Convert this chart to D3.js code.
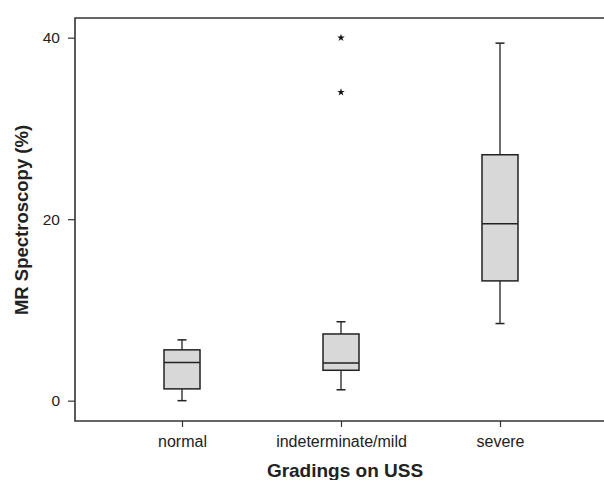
<!DOCTYPE html>
<html>
<head>
<meta charset="utf-8">
<script src="https://cdn.jsdelivr.net/npm/d3@7"></script>
<style>
  body { margin: 0; background: #fff; }
  text { font-family: "Liberation Sans", Arial, sans-serif; fill: #222; }
</style>
</head>
<body>
<div id="chart"></div>
<script>
// data
const categories = ["normal", "indeterminate/mild", "severe"];
const whiskerLow = [0, 1.2, 8.5];
const q1 = [1.3, 3.35, 13.2];
const median = [4.2, 4.15, 19.5];
const q3 = [5.6, 7.35, 27.1];
const whiskerHigh = [6.7, 8.7, 39.4];
const outlierCats = ["indeterminate/mild", "indeterminate/mild"];
const outlierVals = [40, 34];
const yTicks = [0, 20, 40];

const W = 604, H = 480;
const margin = { top: 18, right: -3, bottom: 59, left: 75 };
const width = W - margin.left - margin.right;
const height = H - margin.top - margin.bottom;

const svg = d3.select("#chart").append("svg")
    .attr("width", W)
    .attr("height", H);

const g = svg.append("g")
    .attr("transform", `translate(${margin.left},${margin.top})`);

const x = d3.scalePoint()
    .domain(categories)
    .range([0, width])
    .padding(0.673);

const y = d3.scaleLinear()
    .domain([-2.24, 42.17])
    .range([height, 0]);

const boxes = categories.map((c, i) => ({
    cat: c, lo: whiskerLow[i], q1: q1[i], med: median[i], q3: q3[i], hi: whiskerHigh[i]
}));

const boxW = 36, capW = 9;
const ink = "#222";

// whiskers
const bg = g.selectAll(".box").data(boxes).join("g")
    .attr("class", "box")
    .attr("transform", d => `translate(${x(d.cat)},0)`);

bg.append("line")
    .attr("y1", d => y(d.lo)).attr("y2", d => y(d.q1))
    .attr("stroke", ink).attr("stroke-width", 1.3);
bg.append("line")
    .attr("y1", d => y(d.q3)).attr("y2", d => y(d.hi))
    .attr("stroke", ink).attr("stroke-width", 1.3);
bg.append("line")
    .attr("x1", -capW / 2).attr("x2", capW / 2)
    .attr("y1", d => y(d.lo)).attr("y2", d => y(d.lo))
    .attr("stroke", ink).attr("stroke-width", 1.5);
bg.append("line")
    .attr("x1", -capW / 2).attr("x2", capW / 2)
    .attr("y1", d => y(d.hi)).attr("y2", d => y(d.hi))
    .attr("stroke", ink).attr("stroke-width", 1.5);

// boxes
bg.append("rect")
    .attr("x", -boxW / 2)
    .attr("width", boxW)
    .attr("y", d => y(d.q3))
    .attr("height", d => y(d.q1) - y(d.q3))
    .attr("fill", "#d8d8d8")
    .attr("stroke", ink)
    .attr("stroke-width", 1.5);

bg.append("line")
    .attr("x1", -boxW / 2).attr("x2", boxW / 2)
    .attr("y1", d => y(d.med)).attr("y2", d => y(d.med))
    .attr("stroke", ink).attr("stroke-width", 1.5);

// outliers (stars)
g.selectAll(".outlier").data(outlierVals).join("path")
    .attr("class", "outlier")
    .attr("d", d3.symbol().type(d3.symbolStar).size(18))
    .attr("transform", (d, i) => `translate(${x(outlierCats[i])},${y(d)})`)
    .attr("fill", "#111");

// axes
const yAxis = g.append("g")
    .call(d3.axisLeft(y).tickValues(yTicks).tickSize(7).tickPadding(8));
yAxis.select(".domain").remove();
yAxis.selectAll("line").attr("stroke", "#333").attr("stroke-width", 1.2);
yAxis.selectAll("text")
    .attr("fill", "#333")
    .style("font-size", "15.5px")
    .style("font-family", "Liberation Sans, Arial, sans-serif");

const xAxis = g.append("g")
    .attr("transform", `translate(0,${height})`)
    .call(d3.axisBottom(x).tickSize(6).tickPadding(9));
xAxis.select(".domain").remove();
xAxis.selectAll("line").attr("stroke", "#333").attr("stroke-width", 1.2);
xAxis.selectAll("text")
    .attr("fill", "#333")
    .style("font-size", "16px")
    .style("font-family", "Liberation Sans, Arial, sans-serif");

// frame (top, left, bottom)
g.append("path")
    .attr("d", `M${width},0H0V${height}H${width}`)
    .attr("fill", "none")
    .attr("stroke", "#333")
    .attr("stroke-width", 1.6);

// axis titles
svg.append("text")
    .attr("x", 345)
    .attr("y", 477)
    .attr("text-anchor", "middle")
    .style("font-size", "19px")
    .style("font-weight", "bold")
    .text("Gradings on USS");

svg.append("text")
    .attr("transform", "translate(28,220) rotate(-90)")
    .attr("text-anchor", "middle")
    .style("font-size", "18.5px")
    .style("font-weight", "bold")
    .text("MR Spectroscopy (%)");
</script>
</body>
</html>
